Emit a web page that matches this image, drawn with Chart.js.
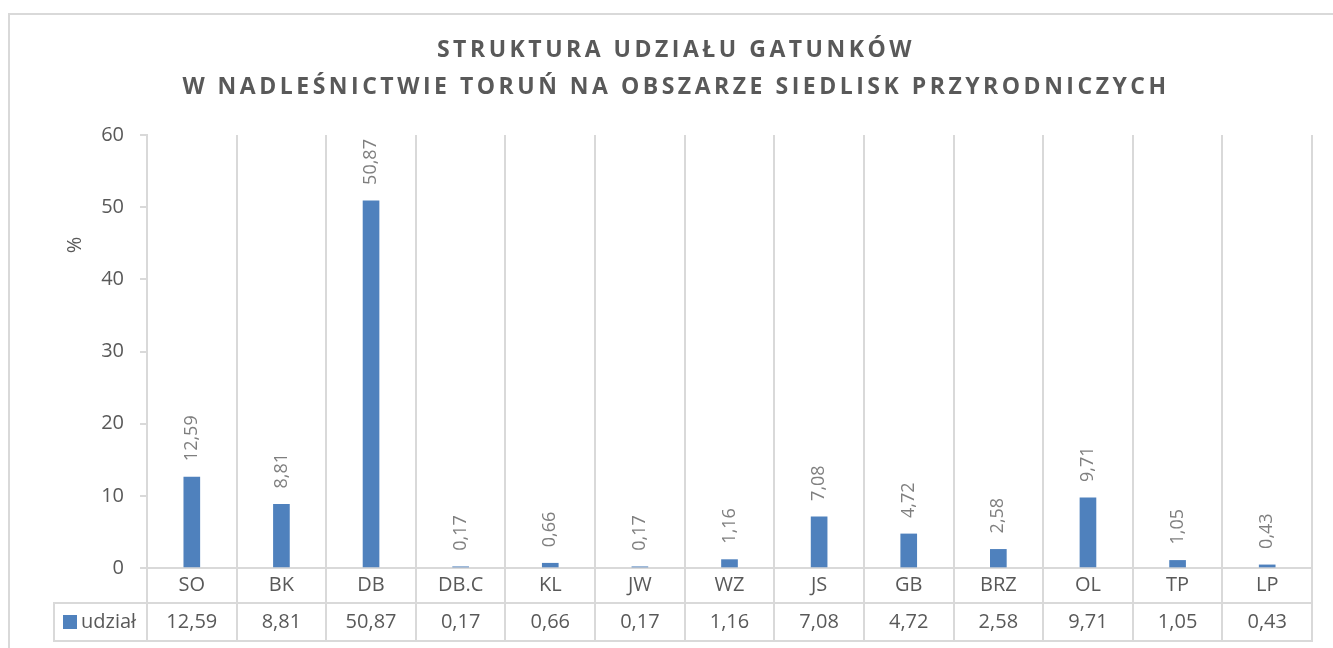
<!DOCTYPE html>
<html lang="pl">
<head>
<meta charset="utf-8">
<title>Struktura udziału gatunków</title>
<script src="https://cdn.jsdelivr.net/npm/chart.js@4/dist/chart.umd.min.js"></script>
<style>
  html, body { margin: 0; padding: 0; background: #fff; }
  #wrap { position: relative; width: 1333px; height: 648px; }
</style>
</head>
<body>
<div id="wrap"><canvas id="chart"></canvas></div>
<script>
/* Struktura udziału gatunków: słupki + tabela danych pod osią (jak w Excelu) */

const TITLE_LINES = ["STRUKTURA UDZIAŁU GATUNKÓW", "W NADLEŚNICTWIE TORUŃ NA OBSZARZE SIEDLISK PRZYRODNICZYCH"];
const CATEGORIES = ["SO", "BK", "DB", "DB.C", "KL", "JW", "WZ", "JS", "GB", "BRZ", "OL", "TP", "LP"];
const SHARE = [12.59, 8.81, 50.87, 0.17, 0.66, 0.17, 1.16, 7.08, 4.72, 2.58, 9.71, 1.05, 0.43];
const SERIES_NAME = "udział";
const Y_MIN = 0;
const Y_MAX = 60;
const Y_STEP = 10;
const Y_TITLE = "%";

const FONT = "'Open Sans', 'Noto Sans', sans-serif";
const INK = "#595959";
const LABEL_INK = "#7f7f7f";
const LINE = "#d9d9d9";
const BAR = "#4f81bd";

const fmt = (v) => v.toFixed(2).replace(".", ",");

// ramka wykresu + tytuł z rozstrzelonymi literami
const framePlugin = {
  id: "frame",
  beforeDraw(chart) {
    const ctx = chart.ctx;
    ctx.save();
    ctx.strokeStyle = LINE;
    ctx.lineWidth = 2;
    ctx.beginPath();
    ctx.moveTo(9, chart.height);
    ctx.lineTo(9, 14);
    ctx.lineTo(chart.width, 14);
    ctx.stroke();

    ctx.fillStyle = INK;
    ctx.font = `bold 23px ${FONT}`;
    ctx.textAlign = "center";
    ctx.textBaseline = "middle";
    ctx.letterSpacing = "0px";
    const w = ctx.measureText(TITLE_LINES[1]).width;
    const spacing = Math.max(0, (987 - w) / TITLE_LINES[1].length);
    ctx.letterSpacing = `${spacing.toFixed(2)}px`;
    ctx.fillText(TITLE_LINES[0], 676, 50);
    ctx.fillText(TITLE_LINES[1], 676, 87);
    ctx.letterSpacing = "0px";

    // tytuł osi Y
    ctx.font = `20px ${FONT}`;
    ctx.translate(75, 245);
    ctx.rotate(-Math.PI / 2);
    ctx.fillText(Y_TITLE, 0, 0);
    ctx.restore();
  },
};

// etykiety danych obrócone o 90°
const barLabelPlugin = {
  id: "barLabels",
  afterDatasetsDraw(chart) {
    const ctx = chart.ctx;
    const meta = chart.getDatasetMeta(0);
    ctx.save();
    ctx.fillStyle = LABEL_INK;
    ctx.font = `18px ${FONT}`;
    ctx.textAlign = "left";
    ctx.textBaseline = "middle";
    meta.data.forEach((el, i) => {
      ctx.save();
      ctx.translate(el.x, el.y - 16);
      ctx.rotate(-Math.PI / 2);
      ctx.fillText(fmt(SHARE[i]), 0, 0);
      ctx.restore();
    });
    ctx.restore();
  },
};

// tabela danych pod osią X
const dataTablePlugin = {
  id: "dataTable",
  afterDraw(chart) {
    const ctx = chart.ctx;
    const area = chart.chartArea;
    const xs = chart.scales.x;
    const half = (xs.getPixelForValue(1) - xs.getPixelForValue(0)) / 2;
    const top = area.bottom;
    const mid = top + 35;
    const bot = top + 73;
    const left = 54;

    ctx.save();
    ctx.strokeStyle = LINE;
    ctx.lineWidth = 2;
    ctx.beginPath();
    for (let i = 0; i <= CATEGORIES.length; i++) {
      const bx = Math.round(xs.getPixelForValue(0) - half + i * 2 * half);
      ctx.moveTo(bx, top);
      ctx.lineTo(bx, bot);
    }
    ctx.moveTo(left, mid);
    ctx.lineTo(left, bot);
    ctx.moveTo(left - 1, mid);
    ctx.lineTo(area.right + 1, mid);
    ctx.moveTo(left - 1, bot);
    ctx.lineTo(area.right + 1, bot);
    ctx.stroke();

    const rowY = (mid + bot) / 2;
    ctx.fillStyle = BAR;
    ctx.fillRect(63, rowY - 7, 14, 14);
    ctx.fillStyle = INK;
    ctx.font = `20px ${FONT}`;
    ctx.textBaseline = "middle";
    ctx.textAlign = "left";
    ctx.fillText(SERIES_NAME, 81, rowY);
    ctx.textAlign = "center";
    SHARE.forEach((v, i) => ctx.fillText(fmt(v), xs.getPixelForValue(i), rowY));
    ctx.restore();
  },
};

new Chart(document.getElementById("chart"), {
  type: "bar",
  data: {
    labels: CATEGORIES,
    datasets: [
      {
        label: SERIES_NAME,
        data: SHARE,
        backgroundColor: BAR,
        barThickness: 16,
      },
    ],
  },
  options: {
    responsive: true,
    maintainAspectRatio: false,
    animation: false,
    layout: { padding: { top: 135, right: 21, left: 0, bottom: 0 } },
    plugins: {
      legend: { display: false },
      tooltip: { enabled: false },
      title: { display: false },
    },
    scales: {
      x: {
        grid: { offset: true, color: LINE, lineWidth: 2, drawTicks: false },
        border: { color: LINE, width: 2 },
        ticks: { color: INK, font: { family: FONT, size: 20 }, padding: 5 },
        afterFit: (s) => { s.height = 80; },
      },
      y: {
        min: Y_MIN,
        max: Y_MAX,
        ticks: { stepSize: Y_STEP, color: INK, font: { family: FONT, size: 20 }, padding: 16 },
        grid: { drawOnChartArea: false, drawTicks: true, tickLength: 7, color: LINE, lineWidth: 2 },
        border: { color: LINE, width: 2 },
        afterFit: (s) => { s.width = 147; },
      },
    },
  },
  plugins: [framePlugin, barLabelPlugin, dataTablePlugin],
});
</script>
</body>
</html>
